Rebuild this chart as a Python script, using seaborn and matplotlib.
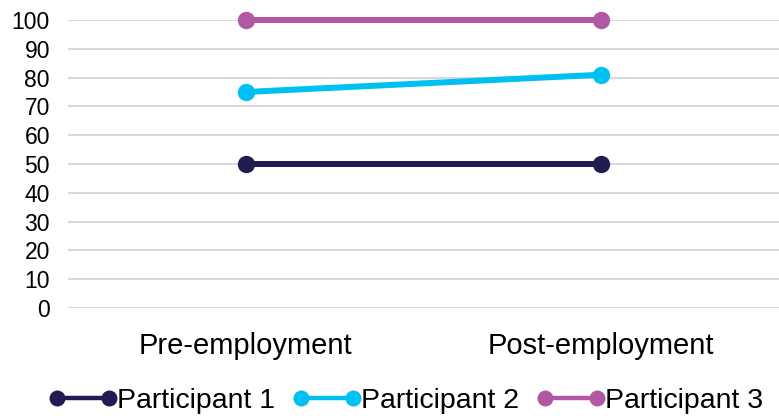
import matplotlib
matplotlib.use("Agg")
import matplotlib.pyplot as plt
import seaborn as sns
import pandas as pd

# Scores before and after employment for each participant
stages = ["Pre-employment", "Post-employment"]
participants = ["Participant 1", "Participant 2", "Participant 3"]
participant_1 = [50, 50]
participant_2 = [75, 81]
participant_3 = [100, 100]
y_ticks = [0, 10, 20, 30, 40, 50, 60, 70, 80, 90, 100]

colors = ["#201B50", "#00BFF1", "#B257A1"]

rows = []
for name, vals in zip(participants, [participant_1, participant_2, participant_3]):
    for stage, v in zip(stages, vals):
        rows.append({"Stage": stage, "Score": v, "Participant": name})
df = pd.DataFrame(rows)

sns.set_theme(style="white")
plt.rcParams["font.family"] = ["Liberation Sans", "DejaVu Sans"]
plt.rcParams["text.color"] = "black"

fig = plt.figure(figsize=(7.79, 4.16), dpi=100)
ax = fig.add_axes([68 / 779, 1 - 308 / 416, 1 - 68 / 779, 288 / 416])

sns.lineplot(
    data=df, x="Stage", y="Score", hue="Participant",
    palette=colors, marker="o", markersize=12.5, markeredgewidth=0,
    linewidth=4.3, sort=False, ax=ax, legend=False,
)
for line in ax.lines:
    line.set_clip_on(False)

ax.set_xlim(-0.5, 1.5)
ax.set_ylim(0, 100)
ax.set_yticks(y_ticks)
ax.set_xticks(range(len(stages)))
ax.set_xticklabels(stages)
ax.yaxis.grid(True, color="#d9d9d9", linewidth=1.5)
ax.set_axisbelow(True)
for s in ax.spines.values():
    s.set_visible(False)
ax.tick_params(axis="y", length=0, pad=13, labelsize=16.5, labelcolor="black")
ax.tick_params(axis="x", length=0, pad=17, labelsize=21, labelcolor="black")
ax.set_xlabel("")
ax.set_ylabel("")

handles = [
    plt.Line2D([0, 1], [0, 0], color=c, linewidth=3.2, marker="o",
               markersize=11.5, markeredgewidth=0)
    for c in colors
]
fig.legend(
    handles, participants, loc="center", bbox_to_anchor=(406 / 779, 1 - 401 / 416),
    ncol=3, frameon=False, fontsize=20.5, numpoints=2, handlelength=2.42,
    handletextpad=0.0, columnspacing=0.6, borderaxespad=0, borderpad=0,
    labelcolor="black",
)

fig.savefig("out.png", dpi=100)
